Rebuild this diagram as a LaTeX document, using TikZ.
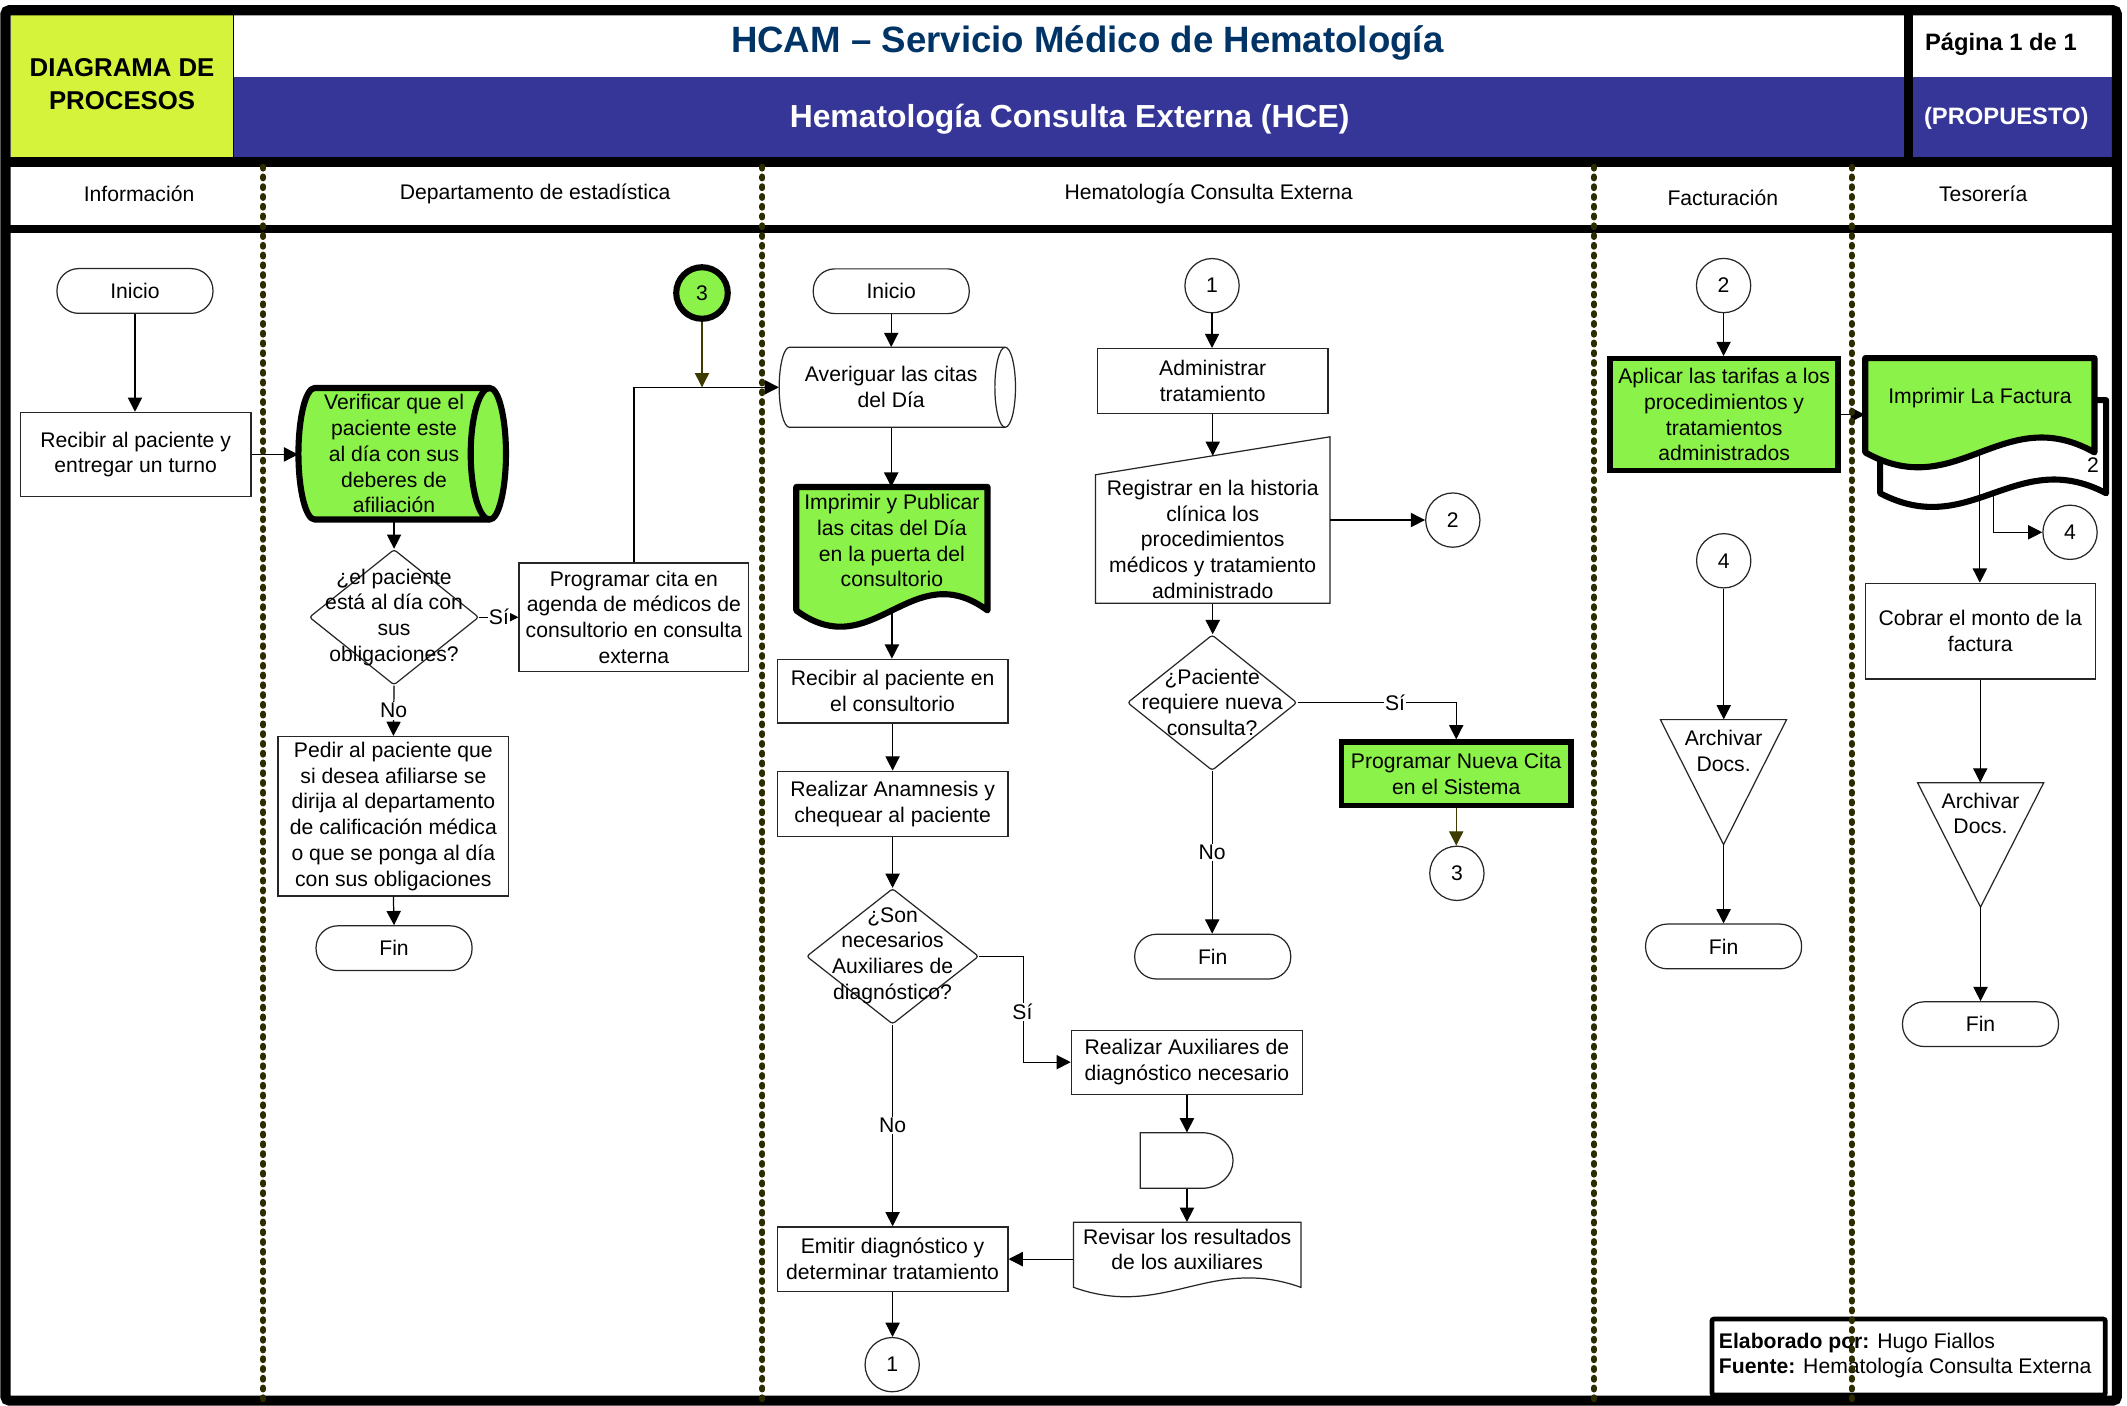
\documentclass[tikz,border=0pt]{standalone}
\usepackage{fontspec}
\setmainfont{Liberation Sans}
\usetikzlibrary{arrows.meta,shapes.geometric,calc}

\definecolor{hdrgreen}{RGB}{212,243,58}
\definecolor{hdrblue}{RGB}{54,54,152}
\definecolor{ttlblue}{RGB}{0,51,102}
\definecolor{actgreen}{RGB}{139,242,73}
\definecolor{lanedash}{RGB}{44,44,0}
\definecolor{olivearr}{RGB}{60,60,0}

\newcommand\flowfont{\fontsize{15.6}{19}\selectfont}

\begin{document}
\begin{tikzpicture}[x=1pt,y=-1pt,
  box/.style={rectangle, draw=black!85, line width=0.9pt, fill=white, align=center, font=\flowfont, inner sep=1pt},
  gbox/.style={box, fill=actgreen, draw=black, line width=4pt},
  term/.style={box, rounded corners=16pt, minimum width=115pt, minimum height=33pt},
  conn/.style={circle, draw=black!85, line width=0.9pt, fill=white, minimum size=40pt, inner sep=0pt, font=\flowfont},
  dec/.style={diamond, draw=black!85, line width=0.9pt, fill=white, minimum width=125pt, minimum height=100pt, inner sep=0pt, rounded corners=2pt},
  ghost/.style={rectangle, draw=none, inner sep=0pt, align=center, font=\flowfont},
  txt/.style={align=center, font=\flowfont, inner sep=0pt},
  shp/.style={draw=black!85, line width=0.9pt, fill=white},
  gshp/.style={draw=black, line width=4.5pt, fill=actgreen, line join=round},
  lbl/.style={fill=white, font=\flowfont, inner sep=1pt},
  arr/.style={draw=black, line width=0.9pt, -{Triangle[length=10.5pt,width=10.5pt]}},
  oarr/.style={draw=olivearr, line width=0.9pt, -{Triangle[length=10.5pt,width=10.5pt]}},
  lanediv/.style={draw=lanedash, line width=4.6pt, line cap=round, dash pattern=on 1.2pt off 6pt},
  lanehead/.style={font=\flowfont, inner sep=0pt}
]
\useasboundingbox (0,0) rectangle (1568,1036);
\fill[white] (0,0) rectangle (1568,1036);

% ---------- title block ----------
\fill[hdrgreen] (8,11) rectangle (172,116);
\fill[hdrblue] (172,57) rectangle (1558,116);
\draw[line width=0.8pt] (172,11) -- (172,116);
\node[font=\bfseries\fontsize{19}{24}\selectfont, align=center, inner sep=0pt] (diag) at (90,62) {DIAGRAMA DE\\PROCESOS};
\node[font=\bfseries\fontsize{27}{32}\selectfont, text=ttlblue, inner sep=0pt] (ttl) at (801.5,32) {HCAM – Servicio Médico de Hematología};
\node[font=\bfseries\fontsize{23.5}{28}\selectfont, text=white, inner sep=0pt] (sub) at (788.5,88) {Hematología Consulta Externa (HCE)};
\node[font=\bfseries\fontsize{17.5}{21}\selectfont, inner sep=0pt] (pag) at (1475,33) {Página 1 de 1};
\node[font=\bfseries\fontsize{17.5}{21}\selectfont, text=white, inner sep=0pt] (prop) at (1479,87) {(PROPUESTO)};

% ---------- frame ----------
\draw[line width=7.5pt, rounded corners=3pt] (4,7.5) rectangle (1560.5,1032.5);
\draw[line width=7.5pt] (4,119.5) -- (1560.5,119.5);
\draw[line width=6pt] (4,169) -- (1560.5,169);
\draw[line width=7pt] (1407,7.5) -- (1407,119.5);

% ---------- lane headings ----------
\node[lanehead] (h1) at (102.5,143) {Información};
\node[lanehead] (h2) at (394.5,143) {Departamento de estadística};
\node[lanehead] (h3) at (891,143) {Hematología Consulta Externa};
\node[lanehead] (h4) at (1270,146) {Facturación};
\node[lanehead] (h5) at (1462,143) {Tesorería};

% ---------- Información ----------
\node[term] (ini1) at (99.5,214.5) {Inicio};
\node[box, minimum width=170pt, minimum height=62pt] (rec) at (100,335) {Recibir al paciente y\\entregar un turno};

% ---------- Departamento de estadística ----------
\draw[gshp] (232,286) -- (361,286) .. controls (367.6,286) and (373,307.8) .. (373,334.5)
  .. controls (373,361.2) and (367.6,383) .. (361,383) -- (232,383)
  .. controls (225.4,383) and (220,361.2) .. (220,334.5)
  .. controls (220,307.8) and (225.4,286) .. (232,286) -- cycle;
\draw[draw=black, line width=4.5pt] (361,286) .. controls (353.3,286) and (347,307.8) .. (347,334.5)
  .. controls (347,361.2) and (353.3,383) .. (361,383);
\node[ghost, minimum width=141pt, minimum height=97pt] (ver) at (290.5,334.5) {Verificar que el\\paciente este\\al día con sus\\deberes de\\afiliación};

\node[dec] (d1) at (290.5,455) {};
\node[txt] (d1t) at (290.5,455) {¿el paciente\\está al día con\\sus\\obligaciones?};
\node[box, minimum width=169.4pt, minimum height=80pt] (pro) at (467.3,455) {Programar cita en\\agenda de médicos de\\consultorio en consulta\\externa};
\node[box, minimum width=170pt, minimum height=117.5pt] (ped) at (290,601.7) {Pedir al paciente que\\si desea afiliarse se\\dirija al departamento\\de calificación médica\\o que se ponga al día\\con sus obligaciones};
\node[term] (fin1) at (290.5,699) {Fin};
\node[conn, fill=actgreen, draw=black, line width=4.5pt, minimum size=38pt] (c3a) at (517.5,216) {3};

% ---------- Hematología Consulta Externa: first column ----------
\node[term] (ini2) at (657,214.7) {Inicio};
\draw[shp] (582,256) -- (741,256) .. controls (745.2,256) and (748.6,269.3) .. (748.6,285.5)
  .. controls (748.6,301.7) and (745.2,315) .. (741,315) -- (582,315)
  .. controls (577.8,315) and (574.4,301.7) .. (574.4,285.5)
  .. controls (574.4,269.3) and (577.8,256) .. (582,256) -- cycle;
\draw[draw=black!85, line width=0.9pt] (741,256) .. controls (736.8,256) and (733.4,269.3) .. (733.4,285.5)
  .. controls (733.4,301.7) and (736.8,315) .. (741,315);
\node[ghost, minimum width=165.2pt, minimum height=59pt] (ave) at (657,285.5) {Averiguar las citas\\del Día};

\draw[gshp] (587,359) -- (728,359) -- (728,450) .. controls (671.6,408.5) and (643.4,491.5) .. (587,450) -- cycle;
\node[ghost, minimum width=141pt, minimum height=91pt] (ipp) at (657.5,404.5) {};
\node[txt] (ippt) at (657.5,398.5) {Imprimir y Publicar\\las citas del Día\\en la puerta del\\consultorio};

\node[box, minimum width=170pt, minimum height=47pt] (rcon) at (658,509.5) {Recibir al paciente en\\el consultorio};
\node[box, minimum width=170pt, minimum height=48pt] (ana) at (658,592.5) {Realizar Anamnesis y\\chequear al paciente};
\node[dec, minimum width=127pt] (d2) at (658,705) {};
\node[txt] (d2t) at (658,704.5) {¿Son\\necesarios\\Auxiliares de\\diagnóstico?};
\node[box, minimum width=170.4pt, minimum height=47.2pt] (aux) at (875,783) {Realizar Auxiliares de\\diagnóstico necesario};

\draw[shp] (840.5,835) -- (886,835) .. controls (898.7,835) and (909,844.2) .. (909,855.5)
  .. controls (909,866.8) and (898.7,876) .. (886,876) -- (840.5,876) -- cycle;
\node[ghost, minimum width=68.5pt, minimum height=41pt] (dly) at (875,855.5) {};

\draw[shp] (791.4,901) -- (959,901) -- (959,949) .. controls (892,925) and (858.4,973) .. (791.4,949) -- cycle;
\node[ghost, minimum width=167.6pt, minimum height=48pt] (rev) at (875.2,925) {};
\node[txt] (revt) at (875.2,921) {Revisar los resultados\\de los auxiliares};

\node[box, minimum width=170pt, minimum height=47.5pt] (emi) at (658,928.2) {Emitir diagnóstico y\\determinar tratamiento};
\node[conn] (c1b) at (657.7,1006) {1};

% ---------- Hematología Consulta Externa: second column ----------
\node[conn] (c1a) at (893.5,210.6) {1};
\node[box, minimum width=170pt, minimum height=48pt] (adm) at (894,281) {Administrar\\tratamiento};
\draw[shp] (807.6,350) -- (980.5,322) -- (980.5,444.7) -- (807.6,444.7) -- cycle;
\node[ghost, minimum width=172.9pt, minimum height=122.7pt] (reg) at (894,383.35) {};
\node[txt] (regt) at (894,397.5) {Registrar en la historia\\clínica los\\procedimientos\\médicos y tratamiento\\administrado};
\coordinate (regtop) at (894,336);
\node[conn] (c2a) at (1071,383.4) {2};
\node[dec] (d3) at (893.6,518) {};
\node[txt] (d3t) at (893.6,517.7) {¿Paciente\\requiere nueva\\consulta?};
\node[gbox, minimum width=169pt, minimum height=47pt] (npc) at (1073.5,570.5) {Programar Nueva Cita\\en el Sistema};
\node[conn] (c3b) at (1074,643.8) {3};
\node[term] (fin3) at (894,705.2) {Fin};

% ---------- Facturación ----------
\node[conn] (c2b) at (1270.6,210.5) {2};
\node[gbox, minimum width=168pt, minimum height=82.5pt] (apl) at (1271,305.7) {Aplicar las tarifas a los\\procedimientos y\\tratamientos\\administrados};
\node[conn] (c4a) at (1270.7,413.4) {4};
\draw[shp] (1224,530.5) -- (1317,530.5) -- (1270.6,622.6) -- cycle;
\node[ghost, minimum width=93pt, minimum height=92pt] (arc1) at (1270.6,576.5) {};
\node[txt] (arc1t) at (1270.6,553.4) {Archivar\\Docs.};
\node[term] (fin4) at (1270.6,697.7) {Fin};

% ---------- Tesorería ----------
\draw[draw=black, line width=4.5pt, fill=white, line join=round] (1386,295) -- (1552.6,295) -- (1552.6,363.6)
  .. controls (1486,328.6) and (1452.6,398.6) .. (1386,363.6) -- cycle;
\draw[gshp] (1375,264) -- (1544,264) -- (1544,333.5) .. controls (1476.4,295.5) and (1442.6,371.5) .. (1375,333.5) -- cycle;
\node[ghost, minimum width=166.6pt, minimum height=68.6pt] (imb) at (1469.3,329.3) {};
\node[ghost, minimum width=169pt, minimum height=70pt] (imf) at (1459.5,299) {};
\node[txt] (imft) at (1459.6,293.6) {Imprimir La Factura};
\node[txt] (imf2) at (1543,343) {2};
\node[conn] (c4b) at (1526,392.4) {4};
\node[box, minimum width=169.5pt, minimum height=70.6pt] (cob) at (1459.8,465.3) {Cobrar el monto de la\\factura};
\draw[shp] (1413.6,577) -- (1506.6,577) -- (1460,668.7) -- cycle;
\node[ghost, minimum width=93pt, minimum height=91.7pt] (arc2) at (1460,622.9) {};
\node[txt] (arc2t) at (1460,599.7) {Archivar\\Docs.};
\node[term] (fin5) at (1460,755) {Fin};

% ---------- connectors ----------
\draw[arr] (ini1.south) -- (ini1.south |- rec.north);
\draw[arr] (rec.east) -- (rec.east -| ver.west);
\draw[arr] (ver.south) -- (d1.north);
\draw[arr] (d1.east) -- node[lbl] (si1) {Sí} (pro.west);
\draw[arr] (d1.south) -- node[lbl] (no1) {No} (ped.north);
\draw[arr] (ped.south) -- (fin1.north);
\draw[arr] (pro.north) |- (ave.west);
\draw[oarr] (c3a.south) -- (c3a.south |- ave.west);

\draw[arr] (ini2.south) -- (ini2.south |- ave.north);
\draw[arr] (ave.south) -- (ave.south |- ipp.north);
\draw[arr] (ipp.south) -- (ipp.south |- rcon.north);
\draw[arr] (rcon.south) -- (rcon.south |- ana.north);
\draw[arr] (ana.south) -- (d2.north);
\draw[arr] (d2.east) -- ++(32.7,0) |- (aux.west);
\node[lbl] (si2) at (753.7,746) {Sí};
\draw[arr] (d2.south) -- node[lbl] (no2) {No} (d2.south |- emi.north);
\draw[arr] (aux.south) -- (aux.south |- dly.north);
\draw[arr] (dly.south) -- (dly.south |- rev.north);
\draw[arr] (rev.west |- emi.east) -- (emi.east);
\draw[arr] (emi.south) -- (emi.south |- c1b.north);

\draw[arr] (c1a.south) -- (c1a.south |- adm.north);
\draw[arr] (adm.south) -- (regtop);
\draw[arr] (reg.east) -- (reg.east -| c2a.west);
\draw[arr] (reg.south) -- (reg.south |- d3.north);
\draw[arr] (d3.east) -| (npc.north);
\node[lbl] (si3) at (1028.4,518) {Sí};
\draw[arr] (d3.south) -- node[lbl] (no3) {No} (d3.south |- fin3.north);
\draw[oarr] (npc.south) -- (npc.south |- c3b.north);

\draw[arr] (c2b.south) -- (c2b.south |- apl.north);
\draw[arr] (apl.east) -- (apl.east -| imf.west);
\draw[arr] (c4a.south) -- (c4a.south |- arc1.north);
\draw[arr] (arc1.south) -- (arc1.south |- fin4.north);

\draw[arr] (imf.south) -- (imf.south |- cob.north);
\draw[arr] (imb.south) |- (c4b.west);
\draw[arr] (cob.south) -- (cob.south |- arc2.north);
\draw[arr] (arc2.south) -- (arc2.south |- fin5.north);

% ---------- credits ----------
\node[draw=black, fill=white, line width=3.5pt, rounded corners=1.5pt, minimum width=290pt, minimum height=56pt, inner sep=0pt] (elab) at (1407,1000.4) {};
\node[anchor=west, align=left, font=\fontsize{15.6}{18.6}\selectfont, inner sep=0pt] (elabt) at (1267,999.3) {\textbf{Elaborado por:} Hugo Fiallos\\\textbf{Fuente:} Hematología Consulta Externa};

% ---------- lane dividers ----------
\foreach \lx in {194,562,1175,1365}
  \draw[lanediv] (\lx,123) -- (\lx,1033);
\end{tikzpicture}
\end{document}
